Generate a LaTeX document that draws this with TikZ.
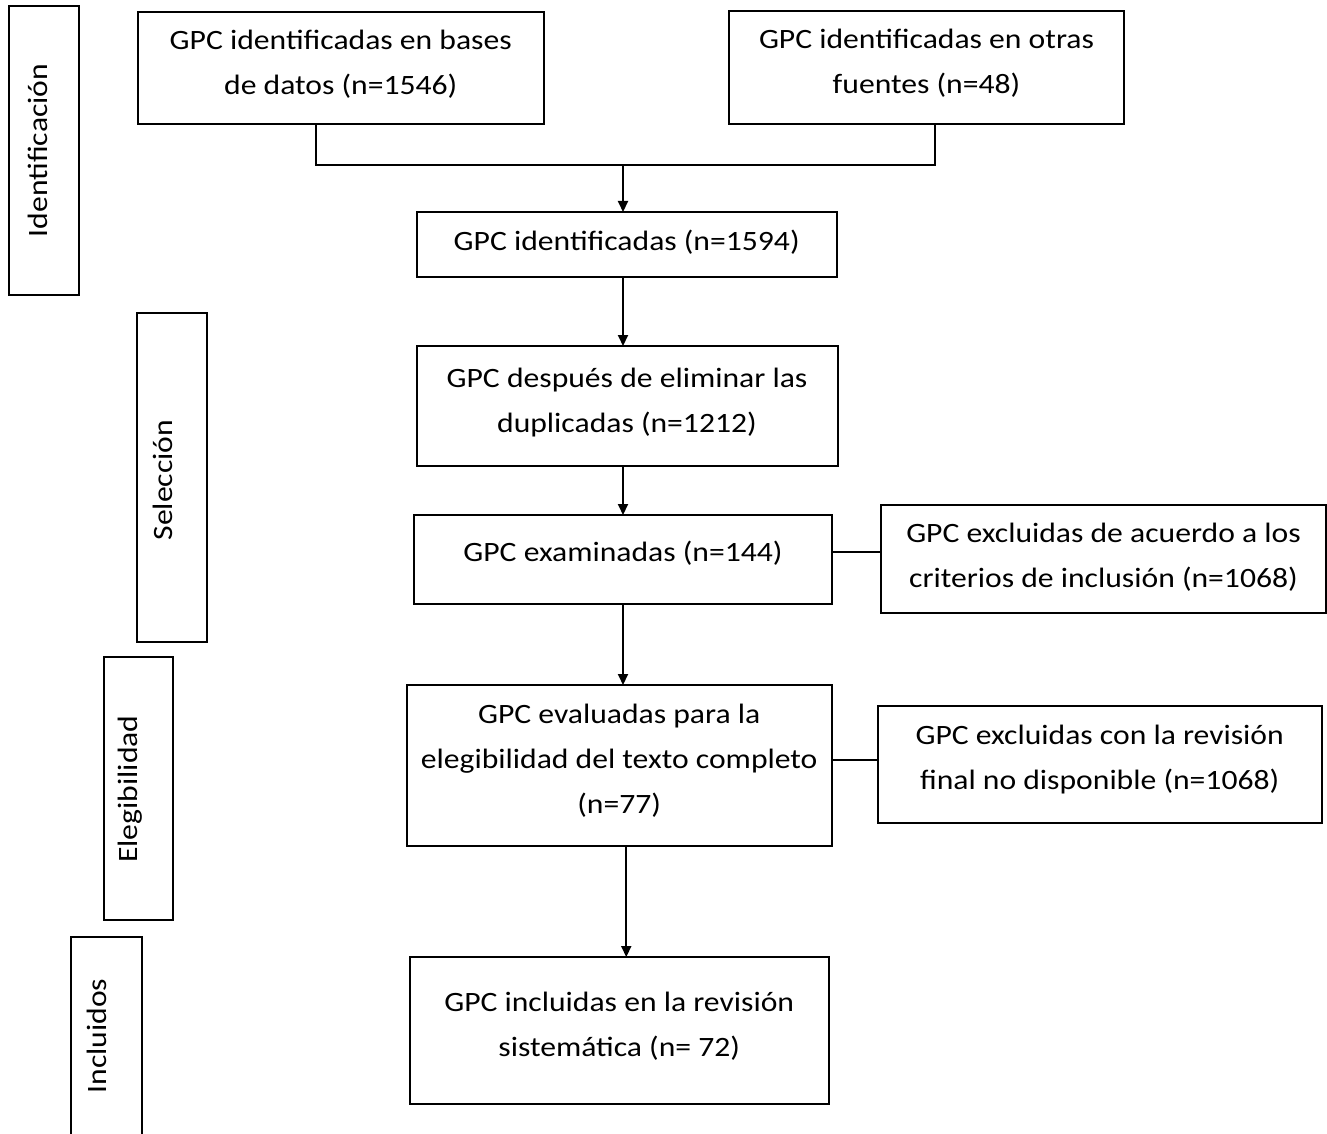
\documentclass[tikz,border=0pt]{standalone}
\usepackage{fontspec}
\setmainfont{Carlito}[FakeStretch=1.13]
\usetikzlibrary{arrows.meta}
\newcommand{\sx}{\rule[-8pt]{0pt}{30pt}}
\newcommand{\bx}[5]{\node[box, minimum width={(#4-#2)*1pt}, minimum height={(#5-#3)*1pt}] (#1) at ({(#2+#4)/2},{(#3+#5)/2}) {};}
\begin{document}
\begin{tikzpicture}[x=1pt,y=-1pt,
 box/.style={draw, line width=2pt, inner sep=0pt, outer sep=0pt},
 txt/.style={align=center, inner sep=0pt, font=\fontsize{28}{45}\selectfont},
 side/.style={rotate=90, inner sep=0pt, font=\fontsize{28}{45}\selectfont},
 arr/.style={line width=2pt, -{Triangle[length=11pt,width=10pt]}},
 ln/.style={line width=2pt}]
\useasboundingbox (0,0) rectangle (1327,1134);
% side boxes
\bx{idf}{9}{6}{79}{295}
\bx{sel}{136.5}{313}{207}{642}
\bx{elg}{103.5}{657}{173}{920}
\bx{inc}{71}{937}{141.5}{1160}
\node[side] (tidf) at (40,150.5) {\sx Identificación};
\node[side] (tsel) at (165.3,480) {\sx Selección};
\node[side] (telg) at (130.3,789) {\sx Elegibilidad};
\node[side] (tinc) at (99,1036) {\sx Incluidos};
% main boxes
\bx{b1}{137.5}{12}{544}{124}
\bx{b2}{729}{11}{1124}{124}
\bx{b3}{417}{212}{836.5}{277}
\bx{b4}{416.5}{346}{837.5}{465.5}
\bx{b5}{414}{515}{832}{603.5}
\bx{ex1}{881}{505}{1326}{613}
\bx{b6}{407}{685}{831.5}{846}
\bx{ex2}{878}{706}{1321.5}{822.5}
\bx{b7}{409.5}{957}{829}{1104}
% texts
\node[txt] (t1) at (340.75,65.5) {\sx GPC identificadas en bases\\\sx de datos (n=1546)};
\node[txt] (t2) at (926.5,64) {\sx GPC identificadas en otras\\\sx fuentes (n=48)};
\node[txt] (t3) at (626.7,243) {\sx GPC identificadas (n=1594)};
\node[txt] (t4) at (627,403) {\sx GPC después de eliminar las\\\sx duplicadas (n=1212)};
\node[txt] (t5) at (623,554.5) {\sx GPC examinadas (n=144)};
\node[txt] (t6) at (1103.5,558) {\sx GPC excluidas de acuerdo a los\\\sx criterios de inclusión (n=1068)};
\node[txt] (t7) at (619.2,761) {\sx GPC evaluadas para la\\\sx elegibilidad del texto completo\\\sx (n=77)};
\node[txt] (t8) at (1099.7,759.5) {\sx GPC excluidas con la revisión\\\sx final no disponible (n=1068)};
\node[txt] (t9) at (619.2,1026.5) {\sx GPC incluidas en la revisión\\\sx sistemática (n= 72)};
% connectors
\coordinate (j) at (623,165);
\draw[ln] ([xshift=-24.75pt]b1.south) |- (j) -| ([xshift=8.8pt]b2.south);
\draw[arr] (j) -- (j |- b3.north);
\draw[arr] (j |- b3.south) -- (j |- b4.north);
\draw[arr] (j |- b4.south) -- (j |- b5.north);
\draw[arr] (j |- b5.south) -- (j |- b6.north);
\draw[arr] ([xshift=7pt]b6.south) coordinate (k) -- (k |- b7.north);
\draw[ln] ([yshift=7.5pt]b5.east) coordinate (m) -- (m -| ex1.west);
\draw[ln] ([yshift=6pt]b6.east) coordinate (q) -- (q -| ex2.west);
\end{tikzpicture}
\end{document}
